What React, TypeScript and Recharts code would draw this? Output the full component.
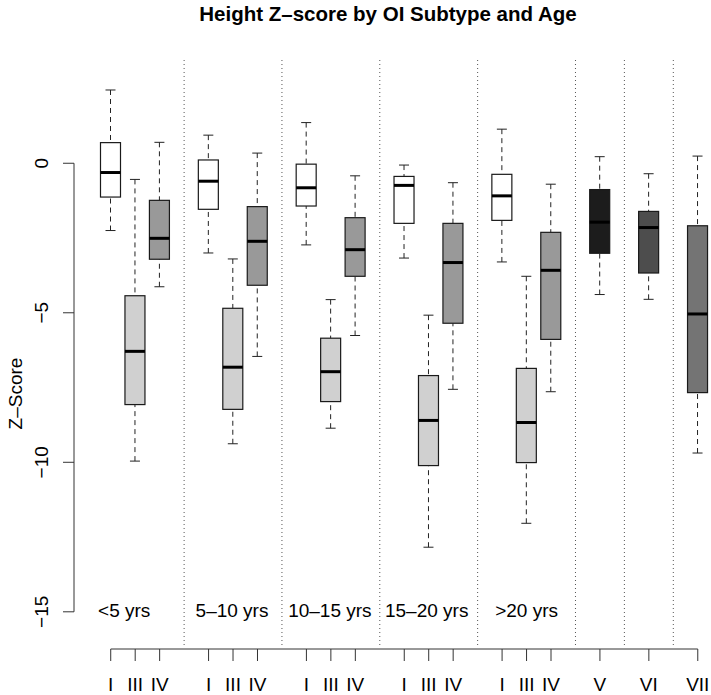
import { ComposedChart, Bar, XAxis, YAxis, ReferenceLine, ReferenceDot } from 'recharts';

// R-style grouped boxplot: 5 age groups x (I, III, IV) plus V, VI, VII pooled.
const GROUP_SUBTYPES = [
  ['I', 'III', 'IV'],
  ['I', 'III', 'IV'],
  ['I', 'III', 'IV'],
  ['I', 'III', 'IV'],
  ['I', 'III', 'IV'],
  ['V'],
  ['VI'],
  ['VII'],
];
const AGE_LABELS = ['<5 yrs', '5–10 yrs', '10–15 yrs', '15–20 yrs', '>20 yrs'];

// one entry per box, in drawing order
const whiskerHigh = [2.45, -0.54, 0.7, 0.94, -3.2, 0.34, 1.36, -4.56, -0.42, -0.06, -5.08, -0.65, 1.14, -3.78, -0.7, 0.22, -0.35, 0.24];
const upperQuartile = [0.69, -4.43, -1.24, 0.11, -4.85, -1.45, -0.03, -5.85, -1.82, -0.44, -7.1, -2.01, -0.37, -6.86, -2.31, -0.88, -1.61, -2.09];
const medians = [-0.31, -6.29, -2.51, -0.6, -6.82, -2.61, -0.82, -6.97, -2.89, -0.74, -8.6, -3.32, -1.09, -8.67, -3.58, -1.97, -2.15, -5.04];
const lowerQuartile = [-1.13, -8.07, -3.21, -1.54, -8.23, -4.08, -1.43, -7.97, -3.78, -2.01, -10.11, -5.35, -1.91, -10.01, -5.89, -3.01, -3.67, -7.67];
const whiskerLow = [-2.25, -9.96, -4.13, -3.0, -9.38, -6.46, -2.73, -8.86, -5.76, -3.17, -12.84, -7.56, -3.3, -12.04, -7.64, -4.39, -4.55, -9.69];

const Y_TICKS = [0, -5, -10, -15];
const Y_MIN = -16.11;
const Y_MAX = 3.52;

const FILLS: Record<string, string> = {
  I: '#ffffff',
  III: '#d0d0d0',
  IV: '#999999',
  V: '#1c1c1c',
  VI: '#4d4d4d',
  VII: '#747474',
};

// layout
const W = 711;
const H = 695;
const MARGIN = { top: 58, right: 1, bottom: 0, left: 0 };
const Y_AXIS_W = 74;
const X_AXIS_H = 50;
const X_PAD_LEFT = 24.5;
const PLOT_H = H - MARGIN.top - MARGIN.bottom - X_AXIS_H;
const PPU = PLOT_H / (Y_MAX - Y_MIN);
const FONT = 19;

type Slot = {
  key: string;
  label: string;
  hi?: number;
  q3?: number;
  med?: number;
  q1?: number;
  lo?: number;
};

const slots: Slot[] = [];
const separators: string[] = [];
const groupMiddles: string[] = [];
let boxIndex = 0;
GROUP_SUBTYPES.forEach((group, gi) => {
  if (gi > 0) {
    const key = `sep${gi}`;
    slots.push({ key, label: '' });
    separators.push(key);
  }
  group.forEach((subtype, j) => {
    const key = `box${boxIndex}`;
    slots.push({
      key,
      label: subtype,
      hi: whiskerHigh[boxIndex],
      q3: upperQuartile[boxIndex],
      med: medians[boxIndex],
      q1: lowerQuartile[boxIndex],
      lo: whiskerLow[boxIndex],
    });
    if (j === 1) groupMiddles.push(key);
    boxIndex++;
  });
});
const labelByKey = new Map(slots.map((s) => [s.key, s.label]));
const BAND = (W - MARGIN.left - MARGIN.right - Y_AXIS_W - X_PAD_LEFT) / slots.length;
const AGE_LABEL_DX = [-11, -1, -1, -2, 0];

function BoxShape(props: any) {
  const { x, y, width, height, payload } = props;
  if (!payload || payload.hi == null) return null;
  const top = Math.min(y, y + height);
  const scale = Math.abs(height) / (payload.hi - payload.lo);
  const py = (v: number) => top + (payload.hi - v) * scale;
  const cx = x + width / 2;
  const cap = width / 4;
  const fill = FILLS[payload.label] ?? '#fff';
  return (
    <g>
      <line x1={cx} x2={cx} y1={py(payload.hi)} y2={py(payload.q3)} stroke="#222" strokeDasharray="5 4" />
      <line x1={cx} x2={cx} y1={py(payload.lo)} y2={py(payload.q1)} stroke="#222" strokeDasharray="5 4" />
      <line x1={cx - cap} x2={cx + cap} y1={py(payload.hi)} y2={py(payload.hi)} stroke="#222" />
      <line x1={cx - cap} x2={cx + cap} y1={py(payload.lo)} y2={py(payload.lo)} stroke="#222" />
      <rect
        x={x}
        y={py(payload.q3)}
        width={width}
        height={py(payload.q1) - py(payload.q3)}
        fill={fill}
        stroke="#1a1a1a"
        strokeWidth={1.2}
      />
      <line x1={x} x2={x + width} y1={py(payload.med)} y2={py(payload.med)} stroke="#000" strokeWidth={3} />
    </g>
  );
}

function XTick(props: any) {
  const { x, y, payload, index } = props;
  const label = labelByKey.get(payload.value) ?? '';
  const base = y + 4;
  return (
    <g>
      {index === 0 && <line x1={x} x2={x + (slots.length - 1) * BAND} y1={base} y2={base} stroke="#333" />}
      {label && <line x1={x} x2={x} y1={base} y2={base + 12} stroke="#333" />}
      {label && (
        <text x={x} y={base + 42} textAnchor="middle" fontSize={FONT} fill="#000">
          {label}
        </text>
      )}
    </g>
  );
}

function YTick(props: any) {
  const { x, y, payload } = props;
  const v = payload.value as number;
  const text = v < 0 ? `\u2212${-v}` : `${v}`;
  const lx = x - 32;
  return (
    <g>
      {v === Y_TICKS[0] && (
        <line x1={x} x2={x} y1={y} y2={y + (Y_TICKS[0] - Y_TICKS[Y_TICKS.length - 1]) * PPU} stroke="#333" />
      )}
      <line x1={x - 11} x2={x} y1={y} y2={y} stroke="#333" />
      <text
        x={lx}
        y={y}
        transform={`rotate(-90 ${lx} ${y})`}
        textAnchor="middle"
        dominantBaseline="central"
        fontSize={FONT}
        fill="#000"
      >
        {text}
      </text>
    </g>
  );
}

export default function App() {
  return (
    <div
      style={{
        position: 'absolute',
        left: 0,
        top: 0,
        width: W,
        height: H,
        overflow: 'hidden',
        background: '#fff',
        fontFamily: '"Liberation Sans", Arial, Helvetica, sans-serif',
      }}
    >
      <div
        style={{
          position: 'absolute',
          left: 0,
          top: 4,
          width: 776,
          textAlign: 'center',
          fontWeight: 'bold',
          fontSize: 20.5,
          lineHeight: '20px',
          color: '#000',
        }}
      >
        Height Z–score by OI Subtype and Age
      </div>
      <ComposedChart width={W} height={H} data={slots} margin={MARGIN} barSize={20}>
        <XAxis
          dataKey="key"
          type="category"
          interval={0}
          height={X_AXIS_H}
          padding={{ left: X_PAD_LEFT, right: 0 }}
          axisLine={false}
          tickLine={false}
          tickSize={0}
          tickMargin={0}
          tick={<XTick />}
        />
        <YAxis
          type="number"
          domain={[Y_MIN, Y_MAX]}
          allowDataOverflow
          ticks={Y_TICKS}
          interval={0}
          width={Y_AXIS_W}
          axisLine={false}
          tickLine={false}
          tickSize={0}
          tickMargin={0}
          tick={<YTick />}
          label={{
            content: (p: any) => {
              const vb = p.viewBox ?? { x: 0, y: 0, height: 0 };
              const lx = vb.x + 15;
              const ly = vb.y + vb.height / 2 + 42;
              return (
                <text
                  x={lx}
                  y={ly}
                  transform={`rotate(-90 ${lx} ${ly})`}
                  textAnchor="middle"
                  dominantBaseline="central"
                  fontSize={FONT}
                  fill="#000"
                >
                  Z–Score
                </text>
              );
            },
          }}
        />
        {separators.map((key) => (
          <ReferenceLine key={key} x={key} stroke="#555" strokeDasharray="1 3" />
        ))}
        {AGE_LABELS.map((label, i) => (
          <ReferenceDot
            key={label}
            x={groupMiddles[i]}
            y={Y_TICKS[Y_TICKS.length - 1]}
            r={1}
            fill="none"
            stroke="none"
            label={{
              content: (p: any) => {
                const vb = p.viewBox ?? { x: 0, y: 0, width: 0, height: 0 };
                return (
                  <text
                    x={vb.x + vb.width / 2 + AGE_LABEL_DX[i]}
                    y={vb.y + vb.height / 2 - 1}
                    textAnchor="middle"
                    dominantBaseline="central"
                    fontSize={FONT}
                    fill="#000"
                  >
                    {label}
                  </text>
                );
              },
            }}
          />
        ))}
        <Bar
          dataKey={(d: Slot) => (d.hi == null ? null : [d.lo, d.hi])}
          shape={(p: any) => <BoxShape {...p} />}
          isAnimationActive={false}
        />
      </ComposedChart>
    </div>
  );
}
